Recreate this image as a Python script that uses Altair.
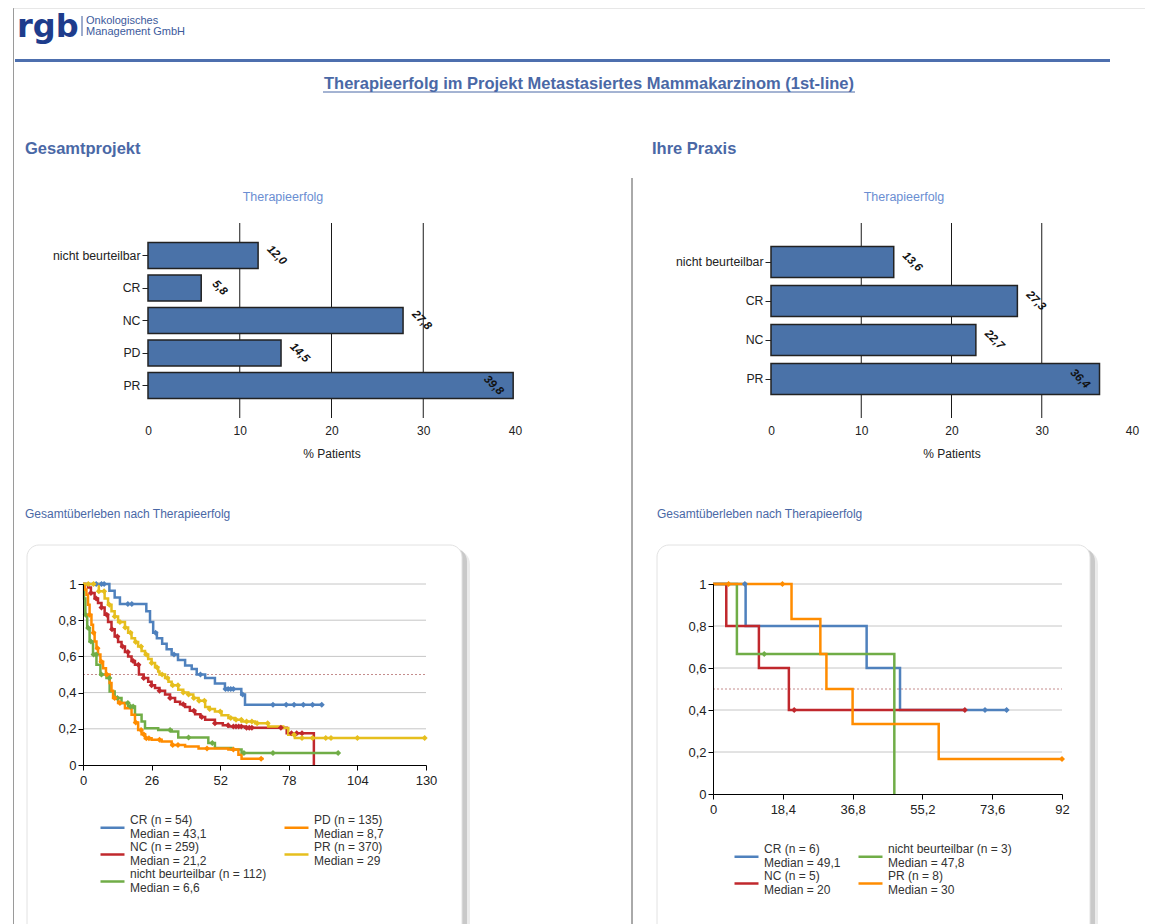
import altair as alt
import pandas as pd

W, H = 1137, 930
FONT = "Liberation Sans"

# ---------------- texts ----------------
logo_text = "rgb"
company_lines = ["Onkologisches", "Management GmbH"]
page_title = "Therapieerfolg im Projekt Metastasiertes Mammakarzinom (1st-line)"
panel_headings = ["Gesamtprojekt", "Ihre Praxis"]
bar_chart_title = "Therapieerfolg"
km_chart_title = "Gesamtüberleben nach Therapieerfolg"
bar_axis_title = "% Patients"

# ---------------- bar data ----------------
bar_left_cats = ["nicht beurteilbar", "CR", "NC", "PD", "PR"]
bar_left_vals = [12.0, 5.8, 27.8, 14.5, 39.8]
bar_right_cats = ["nicht beurteilbar", "CR", "NC", "PR"]
bar_right_vals = [13.6, 27.3, 22.7, 36.4]
bar_ticks = [0, 10, 20, 30, 40]
bar_grid = [10, 20, 30]

# ---------------- KM data: Gesamtprojekt ----------------
km_l_names = ["CR", "NC", "nicht beurteilbar", "PD", "PR"]
km_l_n = [54, 259, 112, 135, 370]
km_l_median = ["43,1", "21,2", "6,6", "8,7", "29"]
km_l_xticks = [0, 26, 52, 78, 104, 130]

cr_l_t = [0, 10, 12, 14, 24, 25.4, 26.6, 28, 30, 31.7, 33.6, 36, 38.7, 41.2, 43.1, 46.3, 50, 53.8, 60, 61.4, 90.5]
cr_l_s = [1, 0.963, 0.926, 0.89, 0.85, 0.79, 0.73, 0.70, 0.67, 0.64, 0.61, 0.58, 0.55, 0.53, 0.50, 0.48, 0.45, 0.42, 0.39, 0.333, 0.333]
cr_l_c = [5, 7, 8, 17, 18.5, 27.5, 34.5, 44.5, 54, 55, 56, 57, 60.5, 72, 77, 80, 83.5, 87, 90.5]

nc_l_t = [0, 1.9, 3, 4.4, 5.7, 7, 8.2, 9.5, 10.8, 12, 13.3, 14.6, 15.9, 17.1, 18.4, 19.7, 21.2, 23, 24.7, 26,
          27.3, 29, 31.1, 33, 34.9, 36.8, 38.7, 40.5, 42.5, 44.5, 46.3, 50, 53, 55.1, 61.4, 77.2, 87.5]
nc_l_s = [1, 0.98, 0.95, 0.92, 0.895, 0.87, 0.83, 0.79, 0.75, 0.71, 0.68, 0.655, 0.625, 0.60, 0.575, 0.554, 0.50, 0.48, 0.46, 0.44,
          0.425, 0.41, 0.39, 0.37, 0.35, 0.335, 0.32, 0.30, 0.28, 0.265, 0.25, 0.231, 0.22, 0.213, 0.206, 0.176, 0.0]
nc_l_c = [3, 5, 7, 9, 11, 13, 15, 17, 19, 21, 23, 26, 29, 33, 38, 42, 45, 50, 55, 57, 58, 59, 60, 62, 63, 64, 75, 79, 81, 83]

pr_l_t = [0, 6, 8.2, 9.5, 10.8, 12, 13.3, 15.9, 17.1, 18.4, 19.7, 20.9, 22.2, 23.5, 24.7, 26, 27.3, 28.5, 29, 31.1,
          32.4, 33.6, 36.1, 38, 39.9, 41.8, 43.8, 46.3, 48, 50, 52.5, 55.1, 57.5, 60.1, 65.2, 70.2, 75.9, 77.8, 80.3, 129.5]
pr_l_s = [1, 0.96, 0.92, 0.885, 0.85, 0.82, 0.79, 0.76, 0.73, 0.70, 0.68, 0.655, 0.63, 0.61, 0.585, 0.563, 0.54, 0.517, 0.50, 0.48,
          0.46, 0.44, 0.416, 0.40, 0.39, 0.37, 0.355, 0.32, 0.31, 0.295, 0.275, 0.259, 0.25, 0.24, 0.231, 0.213, 0.204, 0.167, 0.149, 0.149]
pr_l_c = [2, 4, 6, 8, 10, 12, 14, 16, 18, 20, 22, 24, 26, 28, 30, 32, 34, 36, 38, 40, 42, 44, 46, 48, 52, 56, 58, 60,
          62, 64, 66, 70, 80, 83, 87, 92, 94, 104, 129.5]

pd_l_t = [0, 0.7, 1.3, 1.9, 2.5, 3.2, 3.8, 4.4, 5.1, 5.7, 6.6, 7.6, 8.7, 10.1, 10.8, 11.4, 13.3, 15.9, 18.4, 19.7,
          20.9, 22.2, 23.5, 26, 29.8, 33.6, 38.7, 43.8, 55.1, 58.9, 60.1, 68.4]
pd_l_s = [1, 0.97, 0.94, 0.886, 0.83, 0.775, 0.73, 0.683, 0.645, 0.61, 0.57, 0.535, 0.50, 0.453, 0.41, 0.37, 0.342, 0.314, 0.277, 0.235,
          0.194, 0.17, 0.148, 0.139, 0.13, 0.111, 0.102, 0.091, 0.085, 0.057, 0.035, 0.035]
pd_l_c = [2.5, 4, 5.5, 7, 9, 12, 14, 20, 22, 23, 24, 25, 29, 34, 36, 47, 57, 67.5]

nb_l_t = [0, 0.4, 0.9, 1.6, 2.5, 3.8, 5.1, 6.6, 8.9, 10.1, 12, 14.6, 17.1, 19.7, 22.2, 23.5, 28.5, 33.6, 36.1, 47.5,
          50, 56.3, 60.1, 96.7]
nb_l_s = [1, 0.92, 0.83, 0.757, 0.683, 0.61, 0.554, 0.50, 0.48, 0.406, 0.37, 0.342, 0.323, 0.277, 0.24, 0.203, 0.194, 0.185, 0.152, 0.121,
          0.094, 0.085, 0.066, 0.066]
nb_l_c = [1, 2, 3, 4, 5, 7, 10, 13, 17, 18, 19, 33, 40, 49, 61, 72, 96.7]

# ---------------- KM data: Ihre Praxis ----------------
km_r_names = ["CR", "NC", "nicht beurteilbar", "PR"]
km_r_n = [6, 5, 3, 8]
km_r_median = ["49,1", "20", "47,8", "30"]
km_r_xticks = [0, 18.4, 36.8, 55.2, 73.6, 92]

cr_r_t = [0, 8.6, 40.5, 49.3, 77.4]
cr_r_s = [1, 0.8, 0.6, 0.4, 0.4]
cr_r_c = [8.4, 71.7, 77.4]
nc_r_t = [0, 3.5, 12.1, 20, 66.4]
nc_r_s = [1, 0.8, 0.6, 0.4, 0.4]
nc_r_c = [21.4, 66.4]
nb_r_t = [0, 6.3, 47.8]
nb_r_s = [1, 0.667, 0.0]
nb_r_c = [13.5]
pr_r_t = [0, 20.7, 28.3, 29.9, 36.8, 59.5, 92]
pr_r_s = [1, 0.833, 0.667, 0.5, 0.333, 0.167, 0.167]
pr_r_c = [4.1, 18.3, 92]

km_y_ticks = [0, 0.2, 0.4, 0.6, 0.8, 1]
km_grid = [0.2, 0.4, 0.6, 0.8, 1]
km_median_level = [0.5]

# ---------------- styles ----------------
# colours are handed out in series order, as in the original report
PALETTE = ["#4f81bd", "#c0282d", "#70ad47", "#ff8c00", "#e6bf1e"]
BAR_FILL = "#4a72a8"
HEAD_BLUE = "#4a68a6"
LIGHT_BLUE = "#6b8ed2"


def one_row():
    return alt.Data(values=[{"k": 1}])


def text_mark(text, x, y, size, color, weight="normal", align="left", font=FONT):
    return alt.Chart(one_row()).mark_text(
        text=text, font=font, fontSize=size, fontWeight=weight, color=color,
        align=align, baseline="alphabetic"
    ).encode(x=alt.value(x), y=alt.value(y))


def rule(x1, y1, x2, y2, color, width=1.0):
    enc = dict(x=alt.value(x1), y=alt.value(y1))
    if x2 != x1:
        enc["x2"] = alt.value(x2)
    if y2 != y1:
        enc["y2"] = alt.value(y2)
    return alt.Chart(one_row()).mark_rule(color=color, strokeWidth=width).encode(**enc)


def box(x1, y1, x2, y2, fill, opacity=1.0, stroke=None, radius=12):
    kw = dict(fill=fill, opacity=opacity, cornerRadius=radius)
    if stroke:
        kw.update(stroke=stroke, strokeWidth=1)
    return alt.Chart(one_row()).mark_rect(**kw).encode(
        x=alt.value(x1), x2=alt.value(x2), y=alt.value(y1), y2=alt.value(y2))


def step_at(ts, ss, t):
    v = ss[0]
    for ti, si in zip(ts, ss):
        if ti <= t:
            v = si
    return v


def bar_panel(cats, vals, x0, x1, y0, y1):
    df = pd.DataFrame({"cat": cats, "v": vals})
    xs = alt.Scale(domain=[0, 40], range=[x0, x1], nice=False)
    ys = alt.Scale(domain=cats, range=[y0, y1], paddingInner=0.2, paddingOuter=0.6)
    x_axis = alt.Axis(orient="bottom", offset=y1 - H, values=bar_ticks, grid=False, domain=False, ticks=False,
                      labelFont=FONT, labelFontSize=12, labelColor="#222", labelPadding=7, labelFlush=False,
                      title=bar_axis_title, titleFont=FONT, titleFontSize=12, titleFontWeight="normal",
                      titleColor="#222", titlePadding=12)
    y_axis = alt.Axis(orient="left", offset=-x0, title=None, domain=False, ticks=True, tickSize=6,
                      tickColor="#222", labelFont=FONT, labelFontSize=12.3, labelColor="#222",
                      labelPadding=2, grid=False)
    grid = alt.Chart(pd.DataFrame({"g": bar_grid})).mark_rule(color="#1a1a1a", strokeWidth=1).encode(
        x=alt.X("g:Q", scale=xs, axis=x_axis),
        y=alt.YDatum(0, type="quantitative", scale=alt.Scale(domain=[0, 1], range=[y1, y0]), axis=None),
        y2=alt.Y2Datum(1),
    )
    base = alt.Chart(df).transform_calculate(lbl="replace(format(datum.v, '.1f'), '.', ',')")
    bars = base.mark_bar(fill=BAR_FILL, stroke="#222", strokeWidth=1.5).encode(
        x=alt.X("v:Q", scale=xs, axis=x_axis), y=alt.Y("cat:N", scale=ys, axis=y_axis))
    lab_kw = dict(angle=45, font=FONT, fontSize=11.5, fontWeight="bold", fontStyle="italic",
                  color="#111", align="center", baseline="middle")
    # dx/dy act in the rotated frame: (13,-13) is a horizontal shift of ~18px
    outside = base.transform_filter("datum.v < 35").mark_text(dx=13, dy=-13, **lab_kw).encode(
        x=alt.X("v:Q", scale=xs, axis=x_axis), y=alt.Y("cat:N", scale=ys, axis=y_axis), text="lbl:N")
    inside = base.transform_filter("datum.v >= 35").mark_text(dx=-14, dy=14, **lab_kw).encode(
        x=alt.X("v:Q", scale=xs, axis=x_axis), y=alt.Y("cat:N", scale=ys, axis=y_axis), text="lbl:N")
    return alt.layer(grid, alt.layer(bars, outside, inside)).resolve_scale(y="independent").resolve_axis(y="independent")


def km_panel(series, names, ns, medians, xmax, xticks, x0, x1, ybot, ytop, lx, ly):
    labels = {nm: f"{nm} (n = {n})|Median = {md}" for nm, n, md in zip(names, ns, medians)}
    rows, crows = [], []
    for nm in names:
        ts, ss, cs = series[nm]
        for t, s in zip(ts, ss):
            rows.append({"lab": labels[nm], "t": t, "s": s})
        for c in cs:
            crows.append({"lab": labels[nm], "t": c, "s": step_at(ts, ss, c)})
    dom = [labels[nm] for nm in names]
    rng = PALETTE[:len(names)]
    xs = alt.Scale(domain=[0, xmax], range=[x0, x1], nice=False, zero=False)
    ys = alt.Scale(domain=[0, 1], range=[ybot, ytop], nice=False, zero=False)
    cscale = alt.Scale(domain=dom, range=rng)
    legend = alt.Legend(orient="none", legendX=lx, legendY=ly, title=None, columns=2, symbolType="stroke",
                        symbolSize=576, symbolStrokeWidth=2.5, labelExpr="split(datum.label, '|')",
                        labelFont=FONT, labelFontSize=12, labelColor="#333", labelLimit=0,
                        labelBaseline="line-bottom", columnPadding=12, rowPadding=0, labelOffset=4,
                        padding=0, gridAlign="each")
    x_axis = alt.Axis(orient="bottom", offset=ybot - H, values=xticks, format=".1~f",
                      labelExpr="replace(datum.label, '.', ',')", grid=False, title=None,
                      domainColor="#000", tickColor="#000", tickSize=5, labelFont=FONT, labelFontSize=13,
                      labelColor="#222", labelPadding=4, labelFlush=False, zindex=1)
    y_axis = alt.Axis(orient="left", offset=-x0, values=km_y_ticks, format=".1~f",
                      labelExpr="replace(datum.label, '.', ',')", grid=False, title=None,
                      domainColor="#000", tickColor="#000", tickSize=5, labelFont=FONT, labelFontSize=13,
                      labelColor="#222", labelPadding=2, zindex=1)
    grid = alt.Chart(pd.DataFrame({"g": km_grid})).mark_rule(color="#c6c6c6", strokeWidth=1).encode(
        y=alt.Y("g:Q", scale=ys, axis=y_axis),
        x=alt.XDatum(0, type="quantitative", scale=xs, axis=x_axis), x2=alt.X2Datum(xmax))
    med = alt.Chart(pd.DataFrame({"g": km_median_level})).mark_rule(
        color="#c48c8c", strokeWidth=1, strokeDash=[2, 2]).encode(
        y=alt.Y("g:Q", scale=ys, axis=y_axis),
        x=alt.XDatum(0, type="quantitative", scale=xs, axis=x_axis), x2=alt.X2Datum(xmax))
    lines = alt.Chart(pd.DataFrame(rows)).mark_line(interpolate="step-after", strokeWidth=2.5).encode(
        x=alt.X("t:Q", scale=xs, axis=x_axis), y=alt.Y("s:Q", scale=ys, axis=y_axis),
        color=alt.Color("lab:N", scale=cscale, legend=legend))
    pts = alt.Chart(pd.DataFrame(crows)).mark_point(shape="diamond", filled=True, size=36, opacity=1).encode(
        x=alt.X("t:Q", scale=xs, axis=x_axis), y=alt.Y("s:Q", scale=ys, axis=y_axis),
        color=alt.Color("lab:N", scale=cscale, legend=legend))
    return alt.layer(grid, med, lines, pts)


left_series = {
    "CR": (cr_l_t, cr_l_s, cr_l_c), "NC": (nc_l_t, nc_l_s, nc_l_c),
    "nicht beurteilbar": (nb_l_t, nb_l_s, nb_l_c), "PD": (pd_l_t, pd_l_s, pd_l_c),
    "PR": (pr_l_t, pr_l_s, pr_l_c),
}
right_series = {
    "CR": (cr_r_t, cr_r_s, cr_r_c), "NC": (nc_r_t, nc_r_s, nc_r_c),
    "nicht beurteilbar": (nb_r_t, nb_r_s, nb_r_c), "PR": (pr_r_t, pr_r_s, pr_r_c),
}

layers = [
    # page frame
    rule(5.5, 0, 5.5, H, "#9a9a9a"),
    rule(5.5, 0, W, 0, "#cfcfcf"),
    # header
    text_mark(logo_text, 9, 29, 32, "#1e3c8c", weight="bold", font="DejaVu Sans"),
    rule(74, 8, 74, 28, "#3c5a9c"),
    text_mark(company_lines[0], 78, 16, 11, "#3c5a9c"),
    text_mark(company_lines[1], 78, 27, 11, "#3c5a9c"),
    rule(7, 52.5, 1102, 52.5, "#4d6fae", width=3),
    text_mark(page_title, 581, 81, 16.5, HEAD_BLUE, weight="bold", align="center"),
    rule(315, 84, 847, 84, HEAD_BLUE),
    text_mark(panel_headings[0], 17, 146, 16.5, HEAD_BLUE, weight="bold"),
    text_mark(panel_headings[1], 644, 146, 16.5, HEAD_BLUE, weight="bold"),
    rule(624, 170, 624, H, "#555555"),
    # bar panels
    text_mark(bar_chart_title, 275, 193, 12.5, LIGHT_BLUE, align="center"),
    text_mark(bar_chart_title, 896, 193, 12.5, LIGHT_BLUE, align="center"),
    bar_panel(bar_left_cats, bar_left_vals, 140, 507, 215, 410),
    bar_panel(bar_right_cats, bar_right_vals, 763, 1124, 215, 410),
    # KM panels
    text_mark(km_chart_title, 17, 510, 12, HEAD_BLUE),
    text_mark(km_chart_title, 649, 510, 12, HEAD_BLUE),
    box(23, 542, 462, 946, "#000000", opacity=0.08, radius=14),
    box(21, 540, 459, 944, "#000000", opacity=0.14, radius=13),
    box(19, 537, 454, 940, "#ffffff", stroke="#e2e2e2", radius=12),
    box(653, 542, 1090, 946, "#000000", opacity=0.08, radius=14),
    box(651, 540, 1087, 944, "#000000", opacity=0.14, radius=13),
    box(649, 537, 1082, 940, "#ffffff", stroke="#e2e2e2", radius=12),
    km_panel(left_series, km_l_names, km_l_n, km_l_median, 130, km_l_xticks,
             75, 418, 757, 576, 91, 806),
    km_panel(right_series, km_r_names, km_r_n, km_r_median, 92, km_r_xticks,
             705, 1054, 786, 576, 725, 835),
]

chart = alt.layer(*layers).resolve_scale(
    x="independent", y="independent", color="independent"
).resolve_axis(
    x="independent", y="independent"
).resolve_legend(
    color="independent"
).properties(
    width=W, height=H, autosize=alt.AutoSizeParams(type="none"), padding=0, background="white"
).configure_view(stroke=None)

chart.save("out.html", embed_options={"renderer": "svg", "actions": False})
